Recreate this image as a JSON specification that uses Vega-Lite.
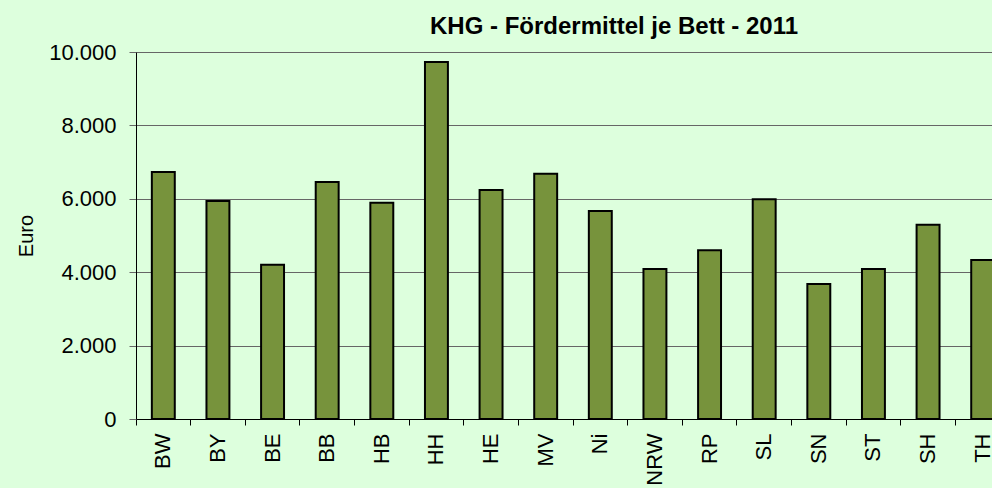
{
  "$schema": "https://vega.github.io/schema/vega-lite/v6.json",
  "autosize": {"type": "none"},
  "width": 856,
  "height": 367,
  "padding": {"left": 136, "top": 52, "right": 0, "bottom": 69},
  "background": "#DDFFDD",
  "title": {
    "text": "KHG - Fördermittel je Bett - 2011",
    "anchor": "start",
    "frame": "group",
    "dx": 294,
    "dy": 26,
    "offset": 9,
    "baseline": "alphabetic",
    "font": "Liberation Sans",
    "fontSize": 24,
    "fontWeight": "bold",
    "color": "#000000"
  },
  "data": {
    "values": [
      {"land": "BW", "euro": 6730},
      {"land": "BY", "euro": 5940},
      {"land": "BE", "euro": 4200},
      {"land": "BB", "euro": 6460},
      {"land": "HB", "euro": 5890},
      {"land": "HH", "euro": 9730},
      {"land": "HE", "euro": 6240},
      {"land": "MV", "euro": 6680},
      {"land": "Ni", "euro": 5670},
      {"land": "NRW", "euro": 4090},
      {"land": "RP", "euro": 4600},
      {"land": "SL", "euro": 5990},
      {"land": "SN", "euro": 3680},
      {"land": "ST", "euro": 4090},
      {"land": "SH", "euro": 5290},
      {"land": "TH", "euro": 4330}
    ]
  },
  "mark": {"type": "bar", "fill": "#77933C", "stroke": "#000000", "strokeWidth": 2, "width": {"band": 0.42}},
  "encoding": {
    "x": {
      "field": "land",
      "type": "nominal",
      "sort": null,
      "scale": {"range": [0, 874], "paddingInner": 0, "paddingOuter": 0},
      "axis": {
        "title": null,
        "bandPosition": 0,
        "labelOffset": 0,
        "labelAngle": -90,
        "labelAlign": "right",
        "labelBaseline": "middle",
        "labelFont": "Liberation Sans",
        "labelFontSize": 22,
        "labelColor": "#000000",
        "labelPadding": 8,
        "labelOverlap": false,
        "tickSize": 6,
        "tickColor": "#000000",
        "domainColor": "#000000",
        "domainWidth": 1,
        "grid": false
      }
    },
    "y": {
      "field": "euro",
      "type": "quantitative",
      "scale": {"domain": [0, 10000], "nice": false},
      "axis": {
        "title": "Euro",
        "titleFont": "Liberation Sans",
        "titleFontSize": 20,
        "titleFontWeight": "normal",
        "titleColor": "#000000",
        "titlePadding": 12,
        "values": [0, 2000, 4000, 6000, 8000, 10000],
        "labelExpr": "replace(format(datum.value, ','), ',', '.')",
        "labelFont": "Liberation Sans",
        "labelFontSize": 22,
        "labelColor": "#000000",
        "labelPadding": 13,
        "tickSize": 7,
        "tickColor": "#666666",
        "domainColor": "#000000",
        "grid": true,
        "gridColor": "#666666",
        "gridOpacity": 1
      }
    }
  },
  "config": {"view": {"stroke": null}}
}
